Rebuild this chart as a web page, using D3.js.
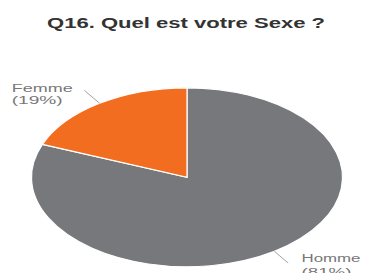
<!DOCTYPE html>
<html><head><meta charset="utf-8">
<script src="https://cdn.jsdelivr.net/npm/d3@7"></script>
<style>body{margin:0;background:#fff;}svg{display:block;}</style>
</head><body>
<svg id="c" width="367" height="273"></svg>
<script>
const categories = ["Homme", "Femme"];
const values = [81, 19];
const percentLabels = ["(81%)", "(19%)"];
const colors = ["#77787b", "#f36d21"];
const title = "Q16. Quel est votre Sexe ?";

const svg = d3.select("#c");
const cx = 187, cy = 177.3, rx = 155.5, ry = 89.5;

svg.append("text").attr("x", 47).attr("y", 28)
  .attr("textLength", 278).attr("lengthAdjust", "spacingAndGlyphs")
  .attr("font-family", "Liberation Sans, Arial, sans-serif")
  .attr("font-weight", "bold").attr("font-size", 14).attr("fill", "#333")
  .text(title);

const data = categories.map((c, i) => ({ name: c, value: values[i], pct: percentLabels[i], color: colors[i] }));
const pie = d3.pie().sort(null).value(d => d.value);
const arcs = pie(data);
const arc = d3.arc().innerRadius(0).outerRadius(ry);

const g = svg.append("g").attr("transform", `translate(${cx},${cy}) scale(${rx / ry},1)`);
g.selectAll("path").data(arcs).enter().append("path")
  .attr("d", arc).attr("fill", d => d.data.color)
  .attr("stroke", "#fff").attr("stroke-width", 1.2)
  .attr("vector-effect", "non-scaling-stroke");

// leader lines and labels
const labelPos = {
  Homme: { x: 301.5, y1: 262, y2: 276, w1: 59, w2: 50, ext: 18 },
  Femme: { x: 11.7, y1: 92, y2: 104, w1: 61, w2: 51, ext: 20 }
};
arcs.forEach(a => {
  const mid = (a.startAngle + a.endAngle) / 2;
  const ex = cx + rx * Math.sin(mid), ey = cy - ry * Math.cos(mid);
  const p = labelPos[a.data.name];
  const dx = Math.sin(mid), dy = -Math.cos(mid);
  const len = Math.hypot(dx * rx, dy * ry);
  const ox = ex + (dx * rx / len) * p.ext, oy = ey + (dy * ry / len) * p.ext;
  svg.append("line").attr("x1", ex).attr("y1", ey).attr("x2", ox).attr("y2", oy)
    .attr("stroke", "#8a8a8a").attr("stroke-width", 0.8);
  const t = svg.append("g").attr("font-family", "Liberation Sans, Arial, sans-serif")
    .attr("font-size", 10).attr("fill", "#777");
  t.append("text").attr("x", p.x).attr("y", p.y1)
    .attr("textLength", p.w1).attr("lengthAdjust", "spacingAndGlyphs").text(a.data.name);
  t.append("text").attr("x", p.x).attr("y", p.y2)
    .attr("textLength", p.w2).attr("lengthAdjust", "spacingAndGlyphs").text(a.data.pct);
});
</script>
</body></html>
